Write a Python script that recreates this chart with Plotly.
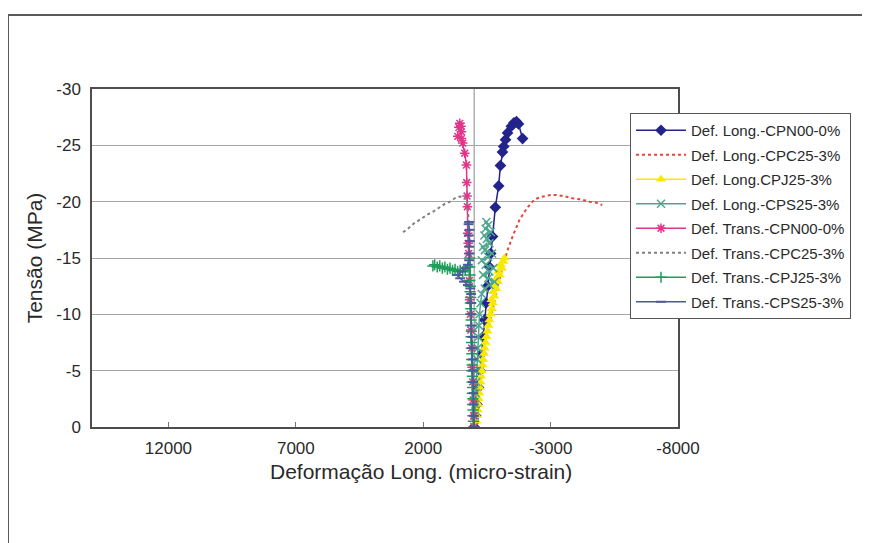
import plotly.graph_objects as go

# ---------------- data (strain in micro-strain, stress in MPa) ----------------
long_cpn00_x = [0, -60, -110, -170, -230, -290, -350, -410, -460, -520, -600, -650, -720,
                -830, -960, -1030, -1110, -1160, -1230, -1310, -1460, -1560, -1660, -1740, -1900]
long_cpn00_y = [0, -1, -2, -3.5, -5, -6.5, -8, -9.5, -11, -12.5, -14.2, -15.4, -16.9,
                -19.5, -21.4, -23.2, -24.4, -24.9, -25.5, -26.1, -26.7, -27.0, -27.1, -26.9, -25.6]

long_cpc25_x = [0, -150, -300, -450, -600, -750, -900, -1050, -1150, -1194, -1311, -1507, -1781,
                -2094, -2368, -2600, -2825, -3000, -3216, -3500, -3854, -4200, -4519, -4800, -5027]
long_cpc25_y = [0, -2.5, -5, -7, -9, -10.8, -12.3, -13.6, -14.4, -14.8, -15.7, -16.9, -18.4,
                -19.5, -20.2, -20.4, -20.5, -20.6, -20.6, -20.5, -20.3, -20.2, -20.0, -19.9, -19.7]

long_cpj25_x = [0, -90, -110, -140, -160, -175, -200, -220, -245, -270, -300, -320, -350, -380,
                -410, -440, -480, -520, -560, -600, -640, -690, -730, -680, -790, -740, -860,
                -800, -930, -870, -1000, -950, -1080, -1030, -1150, -1190]
long_cpj25_y = [0, -0.5, -1, -1.5, -2, -2.5, -3, -3.5, -4, -4.5, -5, -5.5, -6, -6.5,
                -7, -7.5, -8, -8.5, -9, -9.5, -10, -10.5, -11, -11.3, -11.6, -12.0, -12.3,
                -12.6, -12.9, -13.2, -13.5, -13.8, -14.1, -14.4, -14.7, -15.0]

long_cps25_x = [0, -20, -40, -60, -80, -100, -120, -140, -160, -190, -210, -250, -300, -420,
                -600, -800, -550, -350, -600, -750, -450, -300, -550, -700, -420, -350, -600,
                -500, -400, -650, -450, -550, -480]
long_cps25_y = [0, -1, -2, -3, -4, -5, -6, -7, -8, -9, -10, -11, -11.8, -12.3,
                -12.6, -12.9, -13.2, -13.5, -13.8, -14.1, -14.4, -14.8, -15.1, -15.4, -15.7, -16.0, -16.3,
                -16.7, -17.0, -17.3, -17.6, -17.9, -18.2]

trans_cpn00_x = [0, 20, 40, 60, 80, 100, 130, 150, 175, 190, 214, 235, 253, 266, 280, 293,
                 304, 371, 449, 500, 644, 500, 600, 566, 520]
trans_cpn00_y = [0, -1, -2.4, -4, -5.3, -7, -8.6, -10, -11.3, -13, -15.4, -16.3, -17.2, -19.55, -20.5, -21.7,
                 -23.25, -24.3, -25.2, -25.6, -25.8, -26.2, -26.6, -26.95, -26.7]

trans_cpc25_x = [0, 30, 60, 90, 120, 160, 200, 250, 300, 371, 560, 762, 950, 1153, 1400,
                 1622, 1800, 2014, 2200, 2405, 2600, 2847]
trans_cpc25_y = [0, -3, -6, -9, -12, -15, -17.5, -19.5, -20.2, -20.4, -20.45, -20.3, -20.0, -19.8, -19.4,
                 -19.1, -18.9, -18.6, -18.3, -18.0, -17.6, -17.2]

trans_cpj25_x = [0, 30, 50, 40, 60, 50, 70, 60, 80, 70, 90, 80, 100, 90, 110, 100, 120, 110,
                 130, 120, 140, 130, 150, 140, 160, 150, 170, 160, 175, 175, 250, 350, 450, 550,
                 650, 750, 850, 950, 1050, 1150, 1250, 1350, 1450, 1550, 1620]
trans_cpj25_y = [0, -0.5, -1, -1.5, -2, -2.5, -3, -3.5, -4, -4.5, -5, -5.5, -6, -6.5, -7, -7.5, -8, -8.5,
                 -9, -9.5, -10, -10.5, -11, -11.5, -12, -12.5, -13, -13.5, -14.2, -15.0, -14.2, -13.9, -13.8, -13.9,
                 -13.8, -14.0, -13.9, -14.1, -14.0, -14.2, -14.1, -14.3, -14.2, -14.4, -14.3]

trans_cps25_x = [0, 10, 20, 30, 40, 50, 60, 70, 80, 90, 100, 110, 120, 150, 250, 400, 550, 650,
                 500, 350, 250, 200, 180, 200, 170, 210, 180, 220, 200]
trans_cps25_y = [0, -1, -2, -3, -4, -5, -6, -7, -8, -9, -10, -11, -11.8, -12.3, -12.6, -12.9, -13.2, -13.5,
                 -13.8, -14.1, -14.4, -14.8, -15.4, -16.0, -16.5, -17.0, -17.5, -18.0, -18.2]

x_tickvals = [12000, 7000, 2000, -3000, -8000]
x_ticktext = ["12000", "7000", "2000", "-3000", "-8000"]
y_tickvals = [0, -5, -10, -15, -20, -25, -30]
y_ticktext = ["0", "-5", "-10", "-15", "-20", "-25", "-30"]

# ---------------- figure ----------------
FONT = "Liberation Sans, Arial, sans-serif"
TXT = "#2a2a2a"

# page body has an 8 px margin, so the figure is drawn 8 px in from the window edge
OFF = 8
W, H = 870 - OFF, 543 - OFF
L, T = 92 - OFF, 89 - OFF
R = W - (678 - OFF)
B = H - (427 - OFF)
PW, PH = W - L - R, H - T - B

series = [
    ("Def. Long.-CPN00-0%", long_cpn00_x, long_cpn00_y,
     dict(color="#23238C", width=1.5), dict(symbol="diamond", size=9, color="#23238C")),
    ("Def. Long.-CPC25-3%", long_cpc25_x, long_cpc25_y,
     dict(color="#E2473B", width=2, dash="dot"), None),
    ("Def. Long.CPJ25-3%", long_cpj25_x, long_cpj25_y,
     dict(color="#F7EA00", width=1.5), dict(symbol="triangle-up", size=9, color="#F7EA00")),
    ("Def. Long.-CPS25-3%", long_cps25_x, long_cps25_y,
     dict(color="#4FA68E", width=1.5), dict(symbol="x-thin-open", size=8, color="#4FA68E",
                                           line=dict(color="#4FA68E", width=1.5))),
    ("Def. Trans.-CPN00-0%", trans_cpn00_x, trans_cpn00_y,
     dict(color="#E0358A", width=1.5), dict(symbol="asterisk-open", size=8, color="#E0358A",
                                           line=dict(color="#E0358A", width=1.5))),
    ("Def. Trans.-CPC25-3%", trans_cpc25_x, trans_cpc25_y,
     dict(color="#808080", width=2, dash="dot"), None),
    ("Def. Trans.-CPJ25-3%", trans_cpj25_x, trans_cpj25_y,
     dict(color="#1E9D5B", width=1.5), dict(symbol="cross-thin-open", size=8, color="#1E9D5B",
                                           line=dict(color="#1E9D5B", width=1.5))),
    ("Def. Trans.-CPS25-3%", trans_cps25_x, trans_cps25_y,
     dict(color="#4B5A98", width=1.5), dict(symbol="line-ew-open", size=7, color="#4B5A98",
                                           line=dict(color="#4B5A98", width=2))),
]

fig = go.Figure()
for i, (name, xs, ys, line, marker) in enumerate(series):
    kw = dict(x=xs, y=ys, name=name, line=line, legendgroup=f"g{i}")
    if marker is None:
        kw["mode"] = "lines"
    else:
        kw["mode"] = "lines+markers"
        kw["marker"] = marker
    fig.add_trace(go.Scatter(**kw))

# vertical axis line at x = 0
fig.add_shape(type="line", xref="x", yref="paper", x0=0, x1=0, y0=0, y1=1,
              line=dict(color="#8a8a8a", width=1), layer="below")
# outer frame of the picture (window px: left 8, top 15)
fig.add_shape(type="rect", xref="paper", yref="paper",
              x0=(8 - 92) / PW, x1=(890 - 92) / PW,
              y0=(427 - 570) / PH, y1=(427 - 15) / PH,
              line=dict(color="#5a5a5a", width=2), layer="below")

# x-axis title (placed off-centre as in the original)
fig.add_annotation(text="Deformação Long. (micro-strain)", xref="paper", yref="paper",
                   x=(421 - 92) / PW, y=(427 - 471) / PH, xanchor="center", yanchor="middle",
                   showarrow=False, font=dict(family=FONT, size=21, color=TXT))

fig.update_layout(
    width=W, height=H,
    margin=dict(l=L, r=R, t=T, b=B),
    paper_bgcolor="white", plot_bgcolor="white",
    font=dict(family=FONT, color=TXT, size=17),
    showlegend=True,
    legend=dict(x=(630 - 92) / PW, y=(427 - 113) / PH, xanchor="left", yanchor="top",
                bgcolor="white", bordercolor="#555555", borderwidth=1,
                font=dict(family=FONT, size=15, color=TXT),
                tracegroupgap=2, itemwidth=50),
    xaxis=dict(range=[15000, -8000], tickvals=x_tickvals, ticktext=x_ticktext,
               showgrid=False, zeroline=False, showline=True, mirror=True,
               linecolor="#4d4d4d", linewidth=1.5, ticks="inside", ticklen=5,
               tickcolor="#777777", ticklabelstandoff=5),
    yaxis=dict(range=[0, -30], tickvals=y_tickvals, ticktext=y_ticktext,
               showgrid=True, gridcolor="#a6a6a6", gridwidth=1, zeroline=False,
               showline=True, mirror=True, linecolor="#4d4d4d", linewidth=1.5,
               ticks="", ticklabelstandoff=6,
               title=dict(text="Tensão (MPa)", font=dict(size=21), standoff=8)),
)

fig.write_html("out.html")
